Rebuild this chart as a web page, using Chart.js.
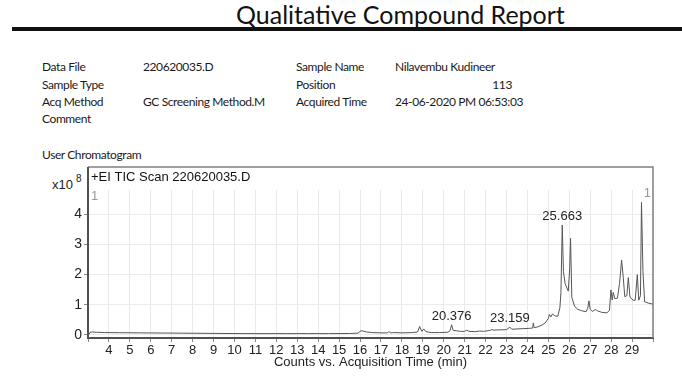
<!DOCTYPE html>
<html>
<head>
<meta charset="utf-8">
<script src="https://cdn.jsdelivr.net/npm/chart.js@4.4.1/dist/chart.umd.min.js"></script>
<style>
    html, body { margin: 0; padding: 0; background: #fff; }
    body { width: 682px; height: 378px; position: relative; overflow: hidden; font-family: Lato, "Noto Sans", sans-serif; color: #1a1a1a; }
    .t { position: absolute; white-space: nowrap; font-size: 12px; line-height: 14px; letter-spacing: -0.4px; }
    #title { position: absolute; left: 236px; top: 0; font-size: 25px; line-height: 28px; white-space: nowrap; color: #111; }
    #rule { position: absolute; left: 12px; right: 0; top: 27px; height: 4px; background: #111; }
    #chart-wrap { position: absolute; left: 0; top: 160px; width: 682px; height: 218px; }
    .ax { position: absolute; font-family: "Liberation Sans", Arial, sans-serif; color: #222; white-space: nowrap; }
</style>
</head>
<body>
<div id="title">Qualitative Compound Report</div>
<div id="rule"></div>

<div class="t" style="left:42px; top:60px">Data File</div>
<div class="t" style="left:143px; top:60px">220620035.D</div>
<div class="t" style="left:296px; top:60px">Sample Name</div>
<div class="t" style="left:395px; top:60px">Nilavembu Kudineer</div>

<div class="t" style="left:42px; top:78px">Sample Type</div>
<div class="t" style="left:296px; top:78px">Position</div>
<div class="t" style="left:482px; top:78px; width:30px; text-align:right">113</div>

<div class="t" style="left:42px; top:95px">Acq Method</div>
<div class="t" style="left:143px; top:95px">GC Screening Method.M</div>
<div class="t" style="left:296px; top:95px">Acquired Time</div>
<div class="t" style="left:395px; top:95px">24-06-2020 PM 06:53:03</div>

<div class="t" style="left:42px; top:112px">Comment</div>
<div class="t" style="left:42px; top:148px">User Chromatogram</div>

<div class="ax" style="left:52px; top:177px; font-size:13px">x10</div>
<div class="ax" style="left:76px; top:173px; font-size:10px">8</div>

<div id="chart-wrap"><canvas id="tic-chart"></canvas></div>

<script>
// retention time (min) and TIC counts (x10^8)
const times = [
    3.00, 3.05, 3.10, 3.20, 3.40, 3.80, 4.50, 5.50, 6.50, 7.50,
    8.50, 9.50, 10.50, 11.50, 12.50, 13.50, 14.50, 15.50, 15.90, 16.05,
    16.15, 16.30, 16.60, 17.00, 17.30, 17.38, 17.45, 17.60, 18.00, 18.50,
    18.75, 18.85, 18.95, 19.05, 19.15, 19.40, 19.80, 20.20, 20.30, 20.376,
    20.45, 20.60, 20.80, 21.00, 21.10, 21.20, 21.50, 21.70, 21.90, 22.20,
    22.30, 22.40, 22.60, 22.80, 23.00, 23.159, 23.25, 23.50, 23.80, 24.10,
    24.25, 24.28, 24.32, 24.50, 24.70, 24.85, 25.00, 25.05, 25.12, 25.20,
    25.30, 25.45, 25.55, 25.60, 25.663, 25.72, 25.80, 25.95, 26.02, 26.06,
    26.12, 26.25, 26.40, 26.60, 26.80, 26.88, 26.94, 27.00, 27.10, 27.25,
    27.35, 27.55, 27.80, 27.92, 27.99, 28.05, 28.10, 28.18, 28.30, 28.40,
    28.50, 28.58, 28.65, 28.75, 28.82, 28.90, 29.05, 29.15, 29.25, 29.32,
    29.40, 29.45, 29.52, 29.60, 29.80, 30.00
];
const counts = [
    0.00, 0.02, 0.09, 0.10, 0.09, 0.08, 0.075, 0.07, 0.065, 0.06,
    0.055, 0.05, 0.045, 0.045, 0.045, 0.045, 0.045, 0.05, 0.06, 0.14,
    0.13, 0.10, 0.08, 0.07, 0.07, 0.11, 0.07, 0.08, 0.07, 0.08,
    0.10, 0.28, 0.12, 0.20, 0.11, 0.08, 0.08, 0.09, 0.14, 0.34,
    0.15, 0.14, 0.12, 0.12, 0.16, 0.12, 0.11, 0.13, 0.12, 0.15,
    0.18, 0.16, 0.17, 0.17, 0.18, 0.26, 0.19, 0.20, 0.21, 0.22,
    0.23, 0.40, 0.24, 0.27, 0.33, 0.40, 0.55, 0.68, 0.60, 0.70,
    0.63, 0.62, 0.90, 1.40, 3.64, 2.10, 1.70, 1.45, 2.20, 3.20,
    1.25, 0.95, 0.85, 0.80, 0.77, 0.88, 1.13, 0.85, 0.78, 0.84,
    0.80, 0.75, 0.73, 0.82, 1.49, 1.16, 1.41, 1.20, 1.22, 1.70,
    2.48, 1.90, 1.27, 1.30, 1.90, 1.25, 1.15, 1.15, 2.00, 1.15,
    1.30, 4.39, 2.10, 1.10, 1.05, 1.02
];

// labelled peaks
const peakTimes = [20.376, 23.159, 25.663];
const peakHeights = [0.34, 0.26, 3.64];
const peakLabels = ['20.376', '23.159', '25.663'];

const xTicks = [3, 4, 5, 6, 7, 8, 9, 10, 11, 12, 13, 14, 15, 16, 17, 18, 19, 20, 21, 22, 23, 24, 25, 26, 27, 28, 29, 30];
const xLabels = [4, 5, 6, 7, 8, 9, 10, 11, 12, 13, 14, 15, 16, 17, 18, 19, 20, 21, 22, 23, 24, 25, 26, 27, 28, 29];
const yTicks = [0, 1, 2, 3, 4];

const axisFont = { family: '"Liberation Sans", Arial, sans-serif', size: 13 };

// frame, header text and the peak labels
const reportDecor = {
    id: 'reportDecor',
    afterDraw(chart) {
        const { ctx, chartArea: a, scales } = chart;
        const boxTop = a.top - 23;
        ctx.save();
        ctx.strokeStyle = '#808080';
        ctx.lineWidth = 1.5;
        ctx.beginPath();
        ctx.moveTo(a.left, boxTop);
        ctx.lineTo(a.right, boxTop);
        ctx.lineTo(a.right, a.bottom);
        ctx.stroke();
        ctx.strokeStyle = '#505050';
        ctx.lineWidth = 2;
        ctx.beginPath();
        ctx.moveTo(a.left, boxTop);
        ctx.lineTo(a.left, a.bottom);
        ctx.stroke();

        ctx.font = '13px "Liberation Sans", Arial, sans-serif';
        ctx.fillStyle = '#111';
        ctx.textBaseline = 'middle';
        ctx.textAlign = 'left';
        ctx.fillText('+EI TIC Scan 220620035.D', a.left + 3, boxTop + 10);

        ctx.fillStyle = '#999';
        ctx.fillText('1', a.left + 3, a.top + 6);
        ctx.textAlign = 'right';
        ctx.fillText('1', a.right - 2, a.top + 3);

        ctx.fillStyle = '#222';
        ctx.textAlign = 'center';
        ctx.textBaseline = 'alphabetic';
        peakTimes.forEach((t, i) => {
            const px = scales.x.getPixelForValue(t);
            const py = scales.y.getPixelForValue(peakHeights[i]);
            ctx.fillText(peakLabels[i], px, py - 5);
        });
        ctx.restore();
    }
};

document.addEventListener('DOMContentLoaded', () => {
    const ctx = document.getElementById('tic-chart').getContext('2d');
    new Chart(ctx, {
        type: 'line',
        data: {
            datasets: [{
                data: times.map((t, i) => ({ x: t, y: counts[i] })),
                borderColor: '#555',
                borderWidth: 1,
                pointRadius: 0,
                tension: 0,
                fill: false
            }]
        },
        options: {
            responsive: true,
            maintainAspectRatio: false,
            animation: false,
            layout: { padding: { left: 0, right: 29, top: 30, bottom: 0 } },
            plugins: {
                legend: { display: false },
                tooltip: { enabled: false }
            },
            scales: {
                x: {
                    type: 'linear',
                    min: 3,
                    max: 30,
                    afterBuildTicks: s => { s.ticks = xTicks.map(v => ({ value: v })); },
                    afterFit: s => { s.height = 40; },
                    grid: { color: '#e9e9e9', tickColor: '#888', tickLength: 4 },
                    border: { color: '#505050', width: 2 },
                    ticks: {
                        font: axisFont,
                        color: '#222',
                        padding: 1,
                        maxRotation: 0,
                        autoSkip: false,
                        callback: v => xLabels.includes(v) ? String(v) : ''
                    },
                    title: {
                        display: true,
                        text: 'Counts vs. Acquisition Time (min)',
                        font: axisFont,
                        color: '#222',
                        padding: { top: 0, bottom: 8 }
                    }
                },
                y: {
                    min: -0.1,
                    max: 4.8,
                    afterBuildTicks: s => { s.ticks = yTicks.map(v => ({ value: v })); },
                    afterFit: s => { s.width = 88; },
                    grid: { color: '#ececec', tickColor: '#888', tickLength: 4 },
                    border: { color: '#505050', width: 2 },
                    ticks: { font: { family: axisFont.family, size: 14 }, color: '#222', padding: 2 }
                }
            }
        },
        plugins: [reportDecor]
    });
});
</script>
</body>
</html>
